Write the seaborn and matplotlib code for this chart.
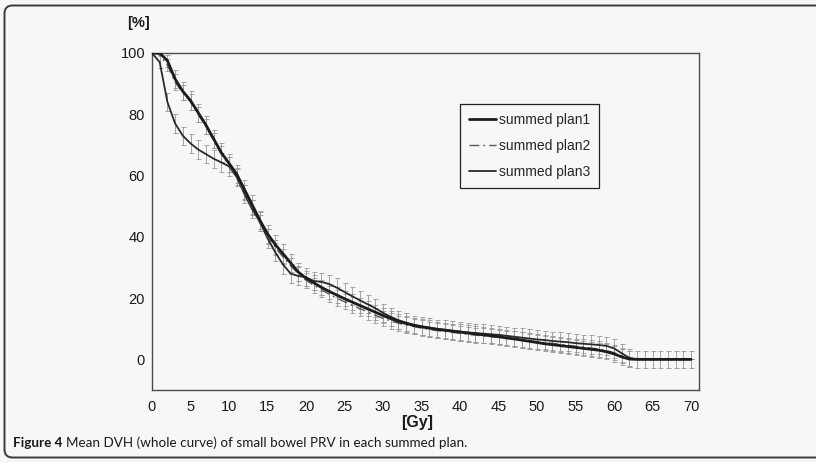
import matplotlib
matplotlib.use("Agg")
import matplotlib.pyplot as plt
from matplotlib.patches import PathPatch
from matplotlib.path import Path
import numpy as np
import pandas as pd
import seaborn as sns

# ---------------- data ----------------
dose = list(range(0, 71))

plan1 = [100, 100, 97.5, 91.5, 87.5, 84.5, 80.5, 76.5, 72, 67.5,
         64, 60.5, 55.5, 50.5, 45.5, 41, 37.5, 34.5, 31.5, 28.5,
         26.5, 25, 23.5, 22.2, 21, 19.8, 18.7, 17.6, 16.5, 15.4,
         14.3, 13.3, 12.4, 11.7, 11.1, 10.6, 10.2, 9.8, 9.5, 9.2,
         8.9, 8.6, 8.3, 8.0, 7.7, 7.4, 7.0, 6.7, 6.3, 5.9,
         5.5, 5.1, 4.8, 4.5, 4.2, 3.9, 3.6, 3.3, 3.0, 2.5,
         1.8, 0.8, 0.1, 0, 0, 0, 0, 0, 0, 0, 0]

plan2 = [100, 99.5, 96, 90.5, 87, 84, 80, 76, 71.5, 67,
         63.5, 59.5, 54.5, 49.5, 44.5, 40, 36.5, 33.5, 30.5, 28,
         25.8, 24.2, 22.7, 21.3, 20, 18.8, 17.7, 16.6, 15.5, 14.4,
         13.4, 12.5, 11.8, 11.2, 10.7, 10.2, 9.8, 9.4, 9.1, 8.8,
         8.5, 8.2, 7.9, 7.7, 7.4, 7.2, 6.9, 6.6, 6.3, 6.0,
         5.8, 5.5, 5.2, 4.9, 4.6, 4.3, 4.0, 3.7, 3.4, 2.9,
         2.2, 1.2, 0.3, 0, 0, 0, 0, 0, 0, 0, 0]

plan3 = [100, 97, 84, 77, 73, 70.5, 68.5, 67, 65.5, 64.3,
         63, 59.5, 54, 49, 45, 39.5, 35, 31, 28, 27.2,
         26.8, 25.6, 25.3, 24.6, 23.4, 22, 20.6, 19.3, 18, 16.7,
         15.2, 13.9, 12.8, 12, 11.3, 10.8, 10.4, 10.0, 9.7, 9.4,
         9.1, 8.8, 8.6, 8.4, 8.2, 8.0, 7.7, 7.4, 7.1, 6.8,
         6.5, 6.3, 6.0, 5.8, 5.6, 5.3, 5.1, 4.9, 4.7, 4.4,
         3.6, 2.0, 0.5, 0, 0, 0, 0, 0, 0, 0, 0]

err1 = [0, 0, 2, 3, 3, 3, 3, 3, 3, 3,
        3, 3, 3, 3, 3, 3, 3, 3, 3, 3,
        2.5, 2.5, 2.5, 2.5, 2.5, 2.5, 2.5, 2.5, 2.5, 2.5,
        2.5, 2.5, 2.5, 2.5, 2.5, 2.5, 2.5, 2.5, 2.5, 2.5,
        2.5, 2.5, 2.5, 2.5, 2.5, 2.5, 2.5, 2.5, 2.5, 2.5,
        2.5, 2.5, 2.5, 2.5, 2.5, 2.5, 2.5, 2.5, 2.5, 2.5,
        2.5, 2.5, 2.5, 0, 0, 0, 0, 0, 0, 0, 0]

err2 = [0, 0, 2, 2.5, 2.5, 2.5, 2.5, 2.5, 2.5, 2.5,
        2.5, 2.5, 2.5, 2.5, 2.5, 2.5, 2.5, 2.5, 2.5, 2.5,
        2.5, 2.5, 2.5, 2.5, 2.5, 2.5, 2.5, 2.5, 2.5, 2.5,
        2.5, 2.5, 2.5, 2.5, 2.5, 2.5, 2.5, 2.5, 2.5, 2.5,
        2.5, 2.5, 2.5, 2.5, 2.5, 2.5, 2.5, 2.5, 2.5, 2.5,
        2.5, 2.5, 2.5, 2.5, 2.5, 2.5, 2.5, 2.5, 2.5, 2.5,
        2.5, 2.5, 2.5, 0, 0, 0, 0, 0, 0, 0, 0]

err3 = [0, 2, 3, 3, 3, 3, 3, 3, 3, 3,
        3, 3, 3, 3, 3, 3, 3, 3, 3, 3,
        3, 3, 3, 3, 3, 3, 3, 3, 3, 3,
        3, 3, 3, 3, 3, 3, 3, 3, 3, 3,
        3, 3, 3, 3, 3, 3, 3, 3, 3, 3,
        3, 3, 3, 3, 3, 3, 3, 3, 3, 3,
        3, 3, 3, 2.8, 2.8, 2.8, 2.8, 2.8, 2.8, 2.8, 2.8]

labels = ["summed plan1", "summed plan2", "summed plan3"]
x_ticks = [0, 5, 10, 15, 20, 25, 30, 35, 40, 45, 50, 55, 60, 65, 70]
y_ticks = [0, 20, 40, 60, 80, 100]

# ---------------- style ----------------
sns.set_theme(style="white")
plt.rcParams["font.family"] = ["Liberation Sans", "DejaVu Sans"]

paper = "#f7f7f5"
W, H = 816, 462
fig = plt.figure(figsize=(W / 100, H / 100), dpi=100)
fig.patch.set_facecolor(paper)

ax = fig.add_axes([152 / W, 1 - 390 / H, 71 * 7.7 / W, (390 - 53) / H])
ax.set_facecolor(paper)

df = pd.DataFrame({
    "dose": dose * 3,
    "value": plan1 + plan2 + plan3,
    "plan": [labels[0]] * len(dose) + [labels[1]] * len(dose) + [labels[2]] * len(dose),
})

# error bars
for vals, errs in [(plan1, err1), (plan2, err2), (plan3, err3)]:
    ax.errorbar(dose, vals, yerr=errs, fmt="none", ecolor="#979797",
                elinewidth=0.6, capsize=1.8, capthick=0.6, zorder=1)

styles = {
    labels[0]: dict(color="#1c1c1c", lw=2.0, dashes=None),
    labels[1]: dict(color="#5a5a5a", lw=1.0, dashes=(7, 3, 1.2, 3)),
    labels[2]: dict(color="#2a2a2a", lw=1.3, dashes=None),
}
for lab in [labels[2], labels[1], labels[0]]:
    sub = df[df["plan"] == lab]
    st = styles[lab]
    sns.lineplot(data=sub, x="dose", y="value", ax=ax, color=st["color"],
                 linewidth=st["lw"], label=lab, zorder=3, errorbar=None)
    if st["dashes"] is not None:
        ax.lines[-1].set_dashes(st["dashes"])

ax.set_xlim(0, 71)
ax.set_ylim(-10, 100)
ax.set_xticks(x_ticks)
ax.set_yticks(y_ticks)
ax.set_xlabel("")
ax.set_ylabel("")
for s in ax.spines.values():
    s.set_color("#4a4a4a")
    s.set_linewidth(1.0)
ax.tick_params(axis="both", which="both", direction="out", length=3, width=0.8,
               color="#4a4a4a", labelsize=10.5, labelcolor="#1a1a1a")
ax.tick_params(axis="x", pad=4)
ax.tick_params(axis="y", pad=2)

handles, labs = ax.get_legend_handles_labels()
order = [labs.index(l) for l in labels]
leg = ax.legend([handles[i] for i in order], [labs[i] for i in order],
                loc="upper left", bbox_to_anchor=(460 / W, 1 - 104 / H),
                bbox_transform=fig.transFigure, borderaxespad=0,
                frameon=True, fancybox=False, edgecolor="#222222",
                facecolor=paper, framealpha=1, fontsize=10,
                handlelength=1.95, handletextpad=0.2, borderpad=0.65,
                labelspacing=0.85)
leg.get_frame().set_linewidth(0.9)

fig.text(138 / W, 1 - 23 / H, "[%]", ha="center", va="center",
         fontsize=10.5, fontweight="bold", color="#1a1a1a")
fig.text(417 / W, 1 - 423 / H, "[Gy]", ha="center", va="center",
         fontsize=11.5, fontweight="bold", color="#1a1a1a")

# caption
fig.canvas.draw()
renderer = fig.canvas.get_renderer()
cap_y = 1 - 443 / H
t1 = fig.text(13 / W, cap_y, "Figure 4", ha="left", va="center",
              fontsize=9.7, fontweight="bold", family=["Lato", "DejaVu Sans"],
              color="#1a1a1a")
bb = t1.get_window_extent(renderer=renderer)
fig.text((bb.x1 + 4) / W, cap_y,
         "Mean DVH (whole curve) of small bowel PRV in each summed plan.",
         ha="left", va="center", fontsize=9.7, family=["Lato", "DejaVu Sans"],
         color="#1a1a1a")

# outer frame: open on the right (runs off the scan), rounded left corners
L, T, B, R, r = 4.5, 5.5, 457.5, 900, 8
pts_px = [(R, T), (L + r, T), (L, T), (L, T + r), (L, B - r), (L, B), (L + r, B), (R, B)]
codes = [Path.MOVETO, Path.LINETO, Path.CURVE3, Path.CURVE3, Path.LINETO,
         Path.CURVE3, Path.CURVE3, Path.LINETO]
verts = [(x / W, 1 - y / H) for x, y in pts_px]
frame = PathPatch(Path(verts, codes), transform=fig.transFigure,
                  facecolor="none", edgecolor="#3a3a3a", linewidth=1.4,
                  clip_on=False)
fig.add_artist(frame)

fig.savefig("out.png", dpi=100, facecolor=fig.get_facecolor())
